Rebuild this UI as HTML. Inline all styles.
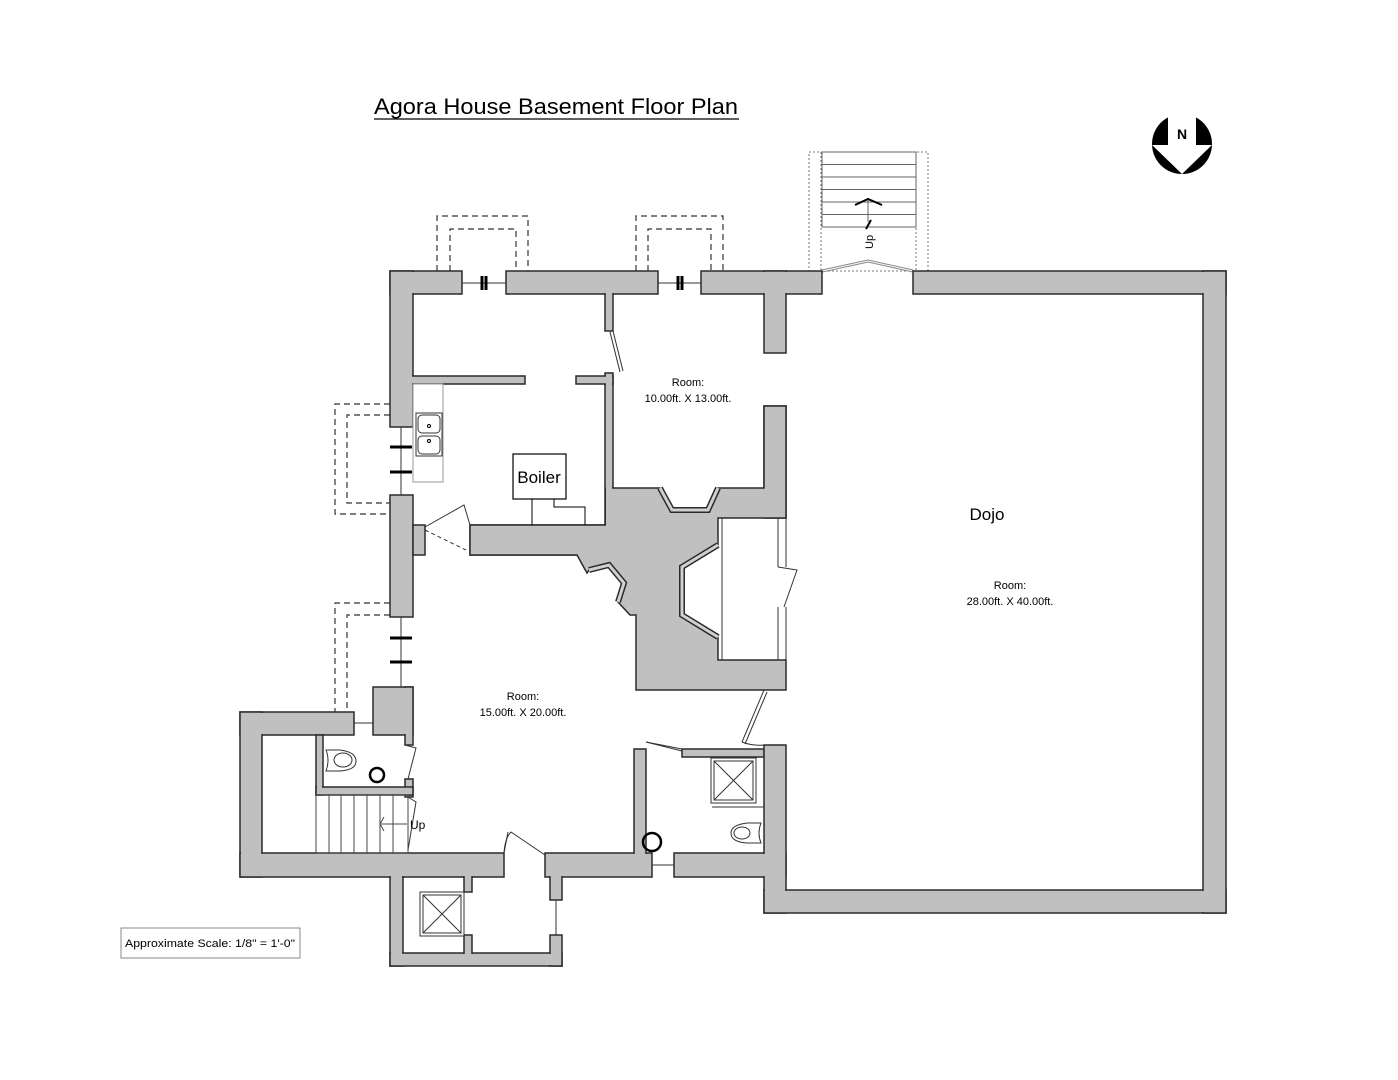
<!DOCTYPE html>
<html><head><meta charset="utf-8"><style>
html,body{margin:0;padding:0;background:#fff;}
svg{display:block;font-family:"Liberation Sans",sans-serif;}
</style></head><body>
<svg width="1398" height="1080" viewBox="0 0 1398 1080" xmlns="http://www.w3.org/2000/svg">
<rect width="1398" height="1080" fill="#fff"/>
<text x="374" y="114" font-size="22" fill="#000" textLength="364" lengthAdjust="spacingAndGlyphs">Agora House Basement Floor Plan</text>
<line x1="374" y1="119" x2="739" y2="119" stroke="#000" stroke-width="1.2"/>

<circle cx="1182" cy="144" r="30" fill="#000"/>
<polygon points="1168,113 1196,113 1196,145 1212,145 1182,174 1152,145 1168,145" fill="#fff"/>
<text x="1182" y="139" font-size="14" font-weight="bold" text-anchor="middle" fill="#000">N</text>

<g fill="none" stroke="#333" stroke-width="1.2" stroke-dasharray="6,4">
<polyline points="437,271 437,216 528,216 528,271"/>
<polyline points="450,271 450,229 516,229 516,271"/>
<polyline points="636,271 636,216 723,216 723,271"/>
<polyline points="648,271 648,229 711,229 711,271"/>
<polyline points="390,404 335,404 335,514 390,514"/>
<polyline points="390,415 347,415 347,503 390,503"/>
<polyline points="390,603 335,603 335,712"/>
<polyline points="390,615 347,615 347,712"/>
</g>
<g fill="none" stroke="#777" stroke-width="1" stroke-dasharray="2,2">
<rect x="809" y="152" width="119" height="119"/>
<line x1="821" y1="152" x2="821" y2="271"/>
<line x1="916" y1="152" x2="916" y2="271"/>
</g>
<g stroke="#666" stroke-width="1" fill="none">
<rect x="822" y="152" width="94" height="75"/>
<line x1="822" y1="164.5" x2="916" y2="164.5"/>
<line x1="822" y1="177" x2="916" y2="177"/>
<line x1="822" y1="189.5" x2="916" y2="189.5"/>
<line x1="822" y1="202" x2="916" y2="202"/>
<line x1="822" y1="214.5" x2="916" y2="214.5"/>
<line x1="868" y1="200" x2="868" y2="222"/>
<polyline points="822,271 868,261 913,271" stroke-width="3" stroke="#888"/>
<polyline points="822,271 868,261 913,271" stroke-width="1" stroke="#fff"/>
</g>
<polyline points="855,205 868,199 882,205" fill="none" stroke="#000" stroke-width="2"/>
<line x1="866" y1="229" x2="871" y2="220" stroke="#000" stroke-width="2"/>
<text x="0" y="0" font-size="11" fill="#000" transform="translate(873,249) rotate(-90)">Up</text>

<g fill="#c0c0c0" stroke="#2a2a2a" stroke-width="1.5">
<rect x="390" y="271" width="72" height="23"/>
<rect x="506" y="271" width="152" height="23"/>
<rect x="701" y="271" width="121" height="23"/>
<rect x="913" y="271" width="313" height="23"/>
<rect x="764" y="271" width="22" height="82"/>
<rect x="390" y="271" width="23" height="156"/>
<rect x="390" y="495" width="23" height="122"/>
<rect x="373" y="687" width="40" height="48"/>
<rect x="405" y="687" width="8" height="58"/>
<rect x="405" y="779" width="8" height="18"/>
<rect x="240" y="712" width="114" height="23"/>
<rect x="240" y="712" width="22" height="165"/>
<rect x="240" y="853" width="264" height="24"/>
<rect x="545" y="853" width="107" height="24"/>
<rect x="674" y="853" width="112" height="24"/>
<rect x="316" y="735" width="7" height="60"/>
<rect x="316" y="787" width="97" height="8"/>
<rect x="390" y="877" width="13" height="89"/>
<rect x="390" y="953" width="172" height="13"/>
<rect x="550" y="870" width="12" height="30"/>
<rect x="550" y="935" width="12" height="31"/>
<rect x="464" y="870" width="8" height="22"/>
<rect x="464" y="935" width="8" height="22"/>
<rect x="634" y="749" width="12" height="110"/>
<rect x="682" y="749" width="82" height="8"/>
<rect x="764" y="745" width="22" height="168"/>
<rect x="764" y="890" width="462" height="23"/>
<rect x="1203" y="271" width="23" height="642"/>
<rect x="605" y="288" width="8" height="43"/>
<rect x="605" y="373" width="8" height="156"/>
<rect x="408" y="376" width="117" height="8"/>
<rect x="576" y="376" width="37" height="8"/>
<rect x="470" y="525" width="142" height="30"/>
<rect x="413" y="525" width="12" height="30"/>
<rect x="764" y="406" width="22" height="112"/>
<polygon points="606,488 660,488 672,510 708,510 718,488 764,488 764,406 786,406 786,518 718,518 718,545 682,567 682,615 718,637 718,660 786,660 786,690 636,690 636,615 630,615 618,602 624,583 609,565 589,570 587,573 577,555 470,555 470,525 606,525"/>
</g>
<g fill="#c0c0c0">
<rect x="391" y="272" width="70" height="21"/>
<rect x="507" y="272" width="150" height="21"/>
<rect x="702" y="272" width="119" height="21"/>
<rect x="914" y="272" width="311" height="21"/>
<rect x="765" y="272" width="20" height="80"/>
<rect x="391" y="272" width="21" height="154"/>
<rect x="374" y="688" width="38" height="46"/>
<rect x="406" y="688" width="6" height="56"/>
<rect x="241" y="713" width="112" height="21"/>
<rect x="241" y="713" width="20" height="163"/>
<rect x="241" y="854" width="262" height="22"/>
<rect x="546" y="854" width="105" height="22"/>
<rect x="675" y="854" width="110" height="22"/>
<rect x="317" y="736" width="5" height="58"/>
<rect x="317" y="788" width="95" height="6"/>
<rect x="391" y="876" width="11" height="89"/>
<rect x="391" y="954" width="170" height="11"/>
<rect x="551" y="869" width="10" height="30"/>
<rect x="551" y="936" width="10" height="29"/>
<rect x="465" y="869" width="6" height="22"/>
<rect x="465" y="936" width="6" height="20"/>
<rect x="635" y="750" width="10" height="108"/>
<rect x="683" y="750" width="80" height="6"/>
<rect x="765" y="746" width="20" height="166"/>
<rect x="765" y="891" width="460" height="21"/>
<rect x="1204" y="272" width="21" height="640"/>
<rect x="606" y="289" width="6" height="41"/>
<rect x="606" y="374" width="6" height="154"/>
<rect x="409" y="377" width="115" height="6"/>
<rect x="577" y="377" width="35" height="6"/>
<rect x="471" y="526" width="140" height="28"/>
<rect x="765" y="407" width="20" height="110"/>
</g>
<g fill="none">
<polyline points="660,488 672,510 708,510 718,488" stroke="#2a2a2a" stroke-width="6"/>
<polyline points="660,488 672,510 708,510 718,488" stroke="#d0d0d0" stroke-width="3"/>
<polyline points="718,545 682,567 682,615 718,637" stroke="#2a2a2a" stroke-width="6"/>
<polyline points="718,545 682,567 682,615 718,637" stroke="#d0d0d0" stroke-width="3"/>
<polyline points="589,570 609,565 624,583 618,602" stroke="#2a2a2a" stroke-width="6"/>
<polyline points="589,570 609,565 624,583 618,602" stroke="#d0d0d0" stroke-width="3"/>
</g>
<g stroke="#333" stroke-width="1" fill="none">
<line x1="722" y1="518" x2="722" y2="660"/>
<line x1="778" y1="518" x2="778" y2="567"/>
<line x1="786" y1="518" x2="786" y2="567"/>
<line x1="778" y1="607" x2="778" y2="660"/>
<line x1="786" y1="607" x2="786" y2="660"/>
<polyline points="778,567 797,570 784,607"/>
<line x1="764" y1="690" x2="742" y2="742"/>
<line x1="767" y1="692" x2="745" y2="744"/>
<path d="M742,742 Q752,746 764,745"/>
<line x1="613" y1="331" x2="623" y2="371"/>
<line x1="610" y1="332" x2="620" y2="372"/>
<polyline points="425,527 464,505 470,525"/>
<line x1="425" y1="530" x2="466" y2="550" stroke-dasharray="4,3"/>
<line x1="462" y1="283" x2="506" y2="283"/>
<line x1="658" y1="283" x2="701" y2="283"/>
<line x1="401" y1="427" x2="401" y2="495"/>
<line x1="401" y1="617" x2="401" y2="687"/>
<line x1="354" y1="723" x2="373" y2="723"/>
<line x1="652" y1="865" x2="674" y2="865"/>
<line x1="556" y1="900" x2="556" y2="935"/>
<polyline points="405,745 416,748 408,779"/>
<line x1="504" y1="853" x2="508" y2="832"/>
<path d="M504,853 Q505,838 511,832 L545,855"/>
<polyline points="646,742 682,749"/>
<line x1="646" y1="742" x2="682" y2="751"/>
<polyline points="408,797 416,802 408,850"/>
</g>
<g stroke="#000" stroke-width="3">
<line x1="482" y1="276" x2="482" y2="290"/><line x1="486" y1="276" x2="486" y2="290"/>
<line x1="678" y1="276" x2="678" y2="290"/><line x1="682" y1="276" x2="682" y2="290"/>
<line x1="390" y1="447" x2="412" y2="447"/><line x1="390" y1="472" x2="412" y2="472"/>
<line x1="390" y1="638" x2="412" y2="638"/><line x1="390" y1="662" x2="412" y2="662"/>
</g>
<rect x="413" y="384" width="30" height="98" fill="#fff" stroke="#999" stroke-width="1"/>
<rect x="416" y="413" width="26" height="43" fill="#fff" stroke="#333" stroke-width="1"/>
<rect x="418" y="415" width="22" height="18" rx="4" fill="none" stroke="#333"/>
<rect x="418" y="436" width="22" height="18" rx="4" fill="none" stroke="#333"/>
<circle cx="429" cy="426" r="1.5" fill="none" stroke="#000"/>
<circle cx="429" cy="441" r="1.5" fill="none" stroke="#000"/>
<rect x="513" y="454" width="53" height="45" fill="#fff" stroke="#000" stroke-width="1.2"/>
<text x="539" y="483" font-size="17" text-anchor="middle" fill="#000">Boiler</text>
<polyline points="532,499 532,525" fill="none" stroke="#000"/>
<polyline points="554,499 554,507 585,507 585,525" fill="none" stroke="#000"/>
<g stroke="#444" stroke-width="1" fill="none">
<rect x="316" y="795" width="92" height="58"/>
<line x1="329" y1="795" x2="329" y2="853"/><line x1="341" y1="795" x2="341" y2="853"/>
<line x1="354" y1="795" x2="354" y2="853"/><line x1="367" y1="795" x2="367" y2="853"/>
<line x1="380" y1="795" x2="380" y2="853"/><line x1="393" y1="795" x2="393" y2="853"/>
<line x1="381" y1="824" x2="407" y2="824"/>
<polyline points="384,817 380,824 384,831"/>
</g>
<text x="410" y="829" font-size="12" fill="#000">Up</text>
<g fill="#fff" stroke="#333" stroke-width="1">
<path d="M326,750 L340,750 Q356,752 356,761 Q356,770 340,771 L326,771 Q330,760 326,750Z"/>
<ellipse cx="343" cy="760" rx="9" ry="7"/>
<path d="M761,823 L747,823 Q731,825 731,833 Q731,842 747,843 L761,843 Q757,833 761,823Z"/>
<ellipse cx="742" cy="833" rx="8" ry="6"/>
</g>
<circle cx="377" cy="775" r="7" fill="none" stroke="#000" stroke-width="2.5"/>
<circle cx="652" cy="842" r="9" fill="none" stroke="#000" stroke-width="2.5"/>
<g stroke="#333" stroke-width="1" fill="#fff">
<rect x="711" y="758" width="45" height="45"/>
<rect x="714" y="761" width="39" height="39"/>
<line x1="714" y1="761" x2="753" y2="800"/><line x1="753" y1="761" x2="714" y2="800"/>
<rect x="420" y="892" width="44" height="44"/>
<rect x="423" y="895" width="38" height="38"/>
<line x1="423" y1="895" x2="461" y2="933"/><line x1="461" y1="895" x2="423" y2="933"/>
<line x1="712" y1="807" x2="764" y2="807"/>
</g>
<g font-size="11" fill="#000" text-anchor="middle">
<text x="688" y="386">Room:</text>
<text x="688" y="402">10.00ft. X 13.00ft.</text>
<text x="1010" y="589">Room:</text>
<text x="1010" y="605">28.00ft. X 40.00ft.</text>
<text x="523" y="700">Room:</text>
<text x="523" y="716">15.00ft. X 20.00ft.</text>
</g>
<text x="987" y="520" font-size="17" text-anchor="middle" fill="#000">Dojo</text>
<rect x="121" y="928" width="179" height="30" fill="#fff" stroke="#888" stroke-width="1"/>
<text x="125" y="947" font-size="11" fill="#000" textLength="170" lengthAdjust="spacingAndGlyphs">Approximate Scale:  1/8" = 1'-0"</text>
</svg>
</body></html>
